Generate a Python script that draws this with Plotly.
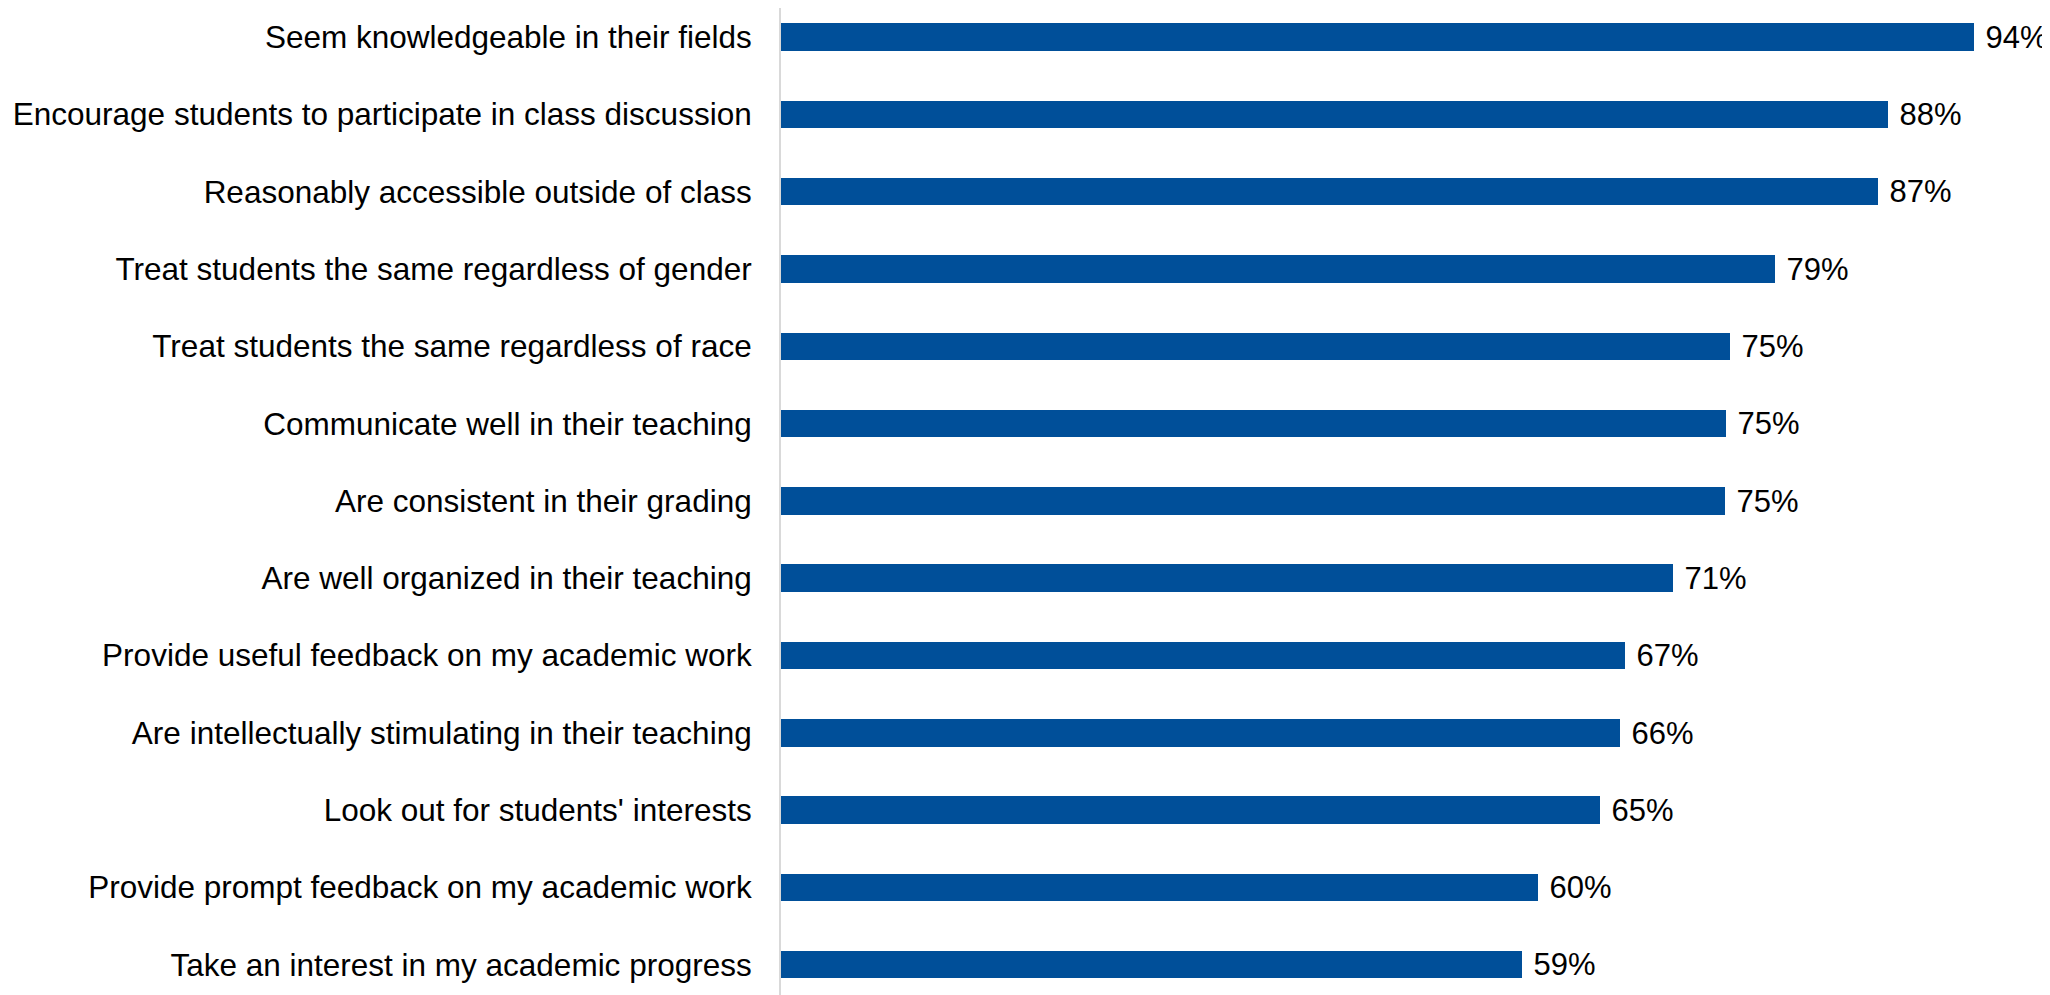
import plotly.graph_objects as go

# Survey items, listed top to bottom as in the chart
items = [
    "Seem knowledgeable in their fields",
    "Encourage students to participate in class discussion",
    "Reasonably accessible outside of class",
    "Treat students the same regardless of gender",
    "Treat students the same regardless of race",
    "Communicate well in their teaching",
    "Are consistent in their grading",
    "Are well organized in their teaching",
    "Provide useful feedback on my academic work",
    "Are intellectually stimulating in their teaching",
    "Look out for students' interests",
    "Provide prompt feedback on my academic work",
    "Take an interest in my academic progress",
]
# bar lengths (percent), and the printed labels
shares = [94.4, 87.6, 86.8, 78.6, 75.1, 74.8, 74.7, 70.6, 66.8, 66.4, 64.8, 59.9, 58.6]
labels = ["94%", "88%", "87%", "79%", "75%", "75%", "75%", "71%", "67%", "66%", "65%", "60%", "59%"]

fig = go.Figure()

fig.add_trace(
    go.Bar(
        y=items[::-1],
        x=shares[::-1],
        orientation="h",
        width=0.356,
        marker=dict(color="#004F99", line=dict(width=0)),
        text=[" " + t for t in labels[::-1]],
        textposition="outside",
        constraintext="none",
        textfont=dict(size=31, color="#000000", family="Liberation Sans, Arial"),
        cliponaxis=False,
        hoverinfo="skip",
    )
)

fig.update_xaxes(visible=False, range=[0, 100], fixedrange=True)
fig.update_yaxes(
    range=[-0.496, 12.376],
    showline=True,
    linecolor="#D9D9D9",
    linewidth=2,
    showgrid=False,
    ticks="",
    ticklabelstandoff=21,
    automargin=False,
    tickfont=dict(size=31.5, color="#000000", family="Liberation Sans, Arial"),
    fixedrange=True,
)
fig.update_layout(
    width=2050,
    height=995,
    margin=dict(l=773, r=13, t=0, b=0),
    plot_bgcolor="white",
    paper_bgcolor="white",
    showlegend=False,
    bargap=0,
)

fig.write_html("out.html")
